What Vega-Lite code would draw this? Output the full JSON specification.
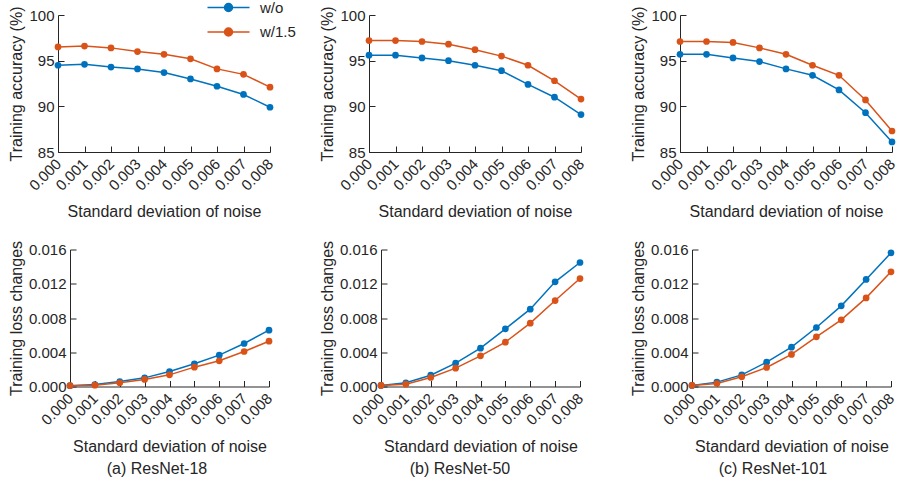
{
  "$schema": "https://vega.github.io/schema/vega-lite/v6.json",
  "padding": {"left": 8, "top": 0, "right": 0, "bottom": 0},
  "datasets": {
    "d": [
      {"model":"ResNet-18","metric":"acc","method":"w/o","noise":0.000,"value":94.5},
      {"model":"ResNet-18","metric":"acc","method":"w/o","noise":0.001,"value":94.6},
      {"model":"ResNet-18","metric":"acc","method":"w/o","noise":0.002,"value":94.3},
      {"model":"ResNet-18","metric":"acc","method":"w/o","noise":0.003,"value":94.1},
      {"model":"ResNet-18","metric":"acc","method":"w/o","noise":0.004,"value":93.7},
      {"model":"ResNet-18","metric":"acc","method":"w/o","noise":0.005,"value":93.0},
      {"model":"ResNet-18","metric":"acc","method":"w/o","noise":0.006,"value":92.2},
      {"model":"ResNet-18","metric":"acc","method":"w/o","noise":0.007,"value":91.3},
      {"model":"ResNet-18","metric":"acc","method":"w/o","noise":0.008,"value":89.9},
      {"model":"ResNet-18","metric":"acc","method":"w/1.5","noise":0.000,"value":96.5},
      {"model":"ResNet-18","metric":"acc","method":"w/1.5","noise":0.001,"value":96.6},
      {"model":"ResNet-18","metric":"acc","method":"w/1.5","noise":0.002,"value":96.4},
      {"model":"ResNet-18","metric":"acc","method":"w/1.5","noise":0.003,"value":96.0},
      {"model":"ResNet-18","metric":"acc","method":"w/1.5","noise":0.004,"value":95.7},
      {"model":"ResNet-18","metric":"acc","method":"w/1.5","noise":0.005,"value":95.2},
      {"model":"ResNet-18","metric":"acc","method":"w/1.5","noise":0.006,"value":94.1},
      {"model":"ResNet-18","metric":"acc","method":"w/1.5","noise":0.007,"value":93.5},
      {"model":"ResNet-18","metric":"acc","method":"w/1.5","noise":0.008,"value":92.1},
      {"model":"ResNet-50","metric":"acc","method":"w/o","noise":0.000,"value":95.6},
      {"model":"ResNet-50","metric":"acc","method":"w/o","noise":0.001,"value":95.6},
      {"model":"ResNet-50","metric":"acc","method":"w/o","noise":0.002,"value":95.3},
      {"model":"ResNet-50","metric":"acc","method":"w/o","noise":0.003,"value":95.0},
      {"model":"ResNet-50","metric":"acc","method":"w/o","noise":0.004,"value":94.5},
      {"model":"ResNet-50","metric":"acc","method":"w/o","noise":0.005,"value":93.9},
      {"model":"ResNet-50","metric":"acc","method":"w/o","noise":0.006,"value":92.4},
      {"model":"ResNet-50","metric":"acc","method":"w/o","noise":0.007,"value":91.0},
      {"model":"ResNet-50","metric":"acc","method":"w/o","noise":0.008,"value":89.1},
      {"model":"ResNet-50","metric":"acc","method":"w/1.5","noise":0.000,"value":97.2},
      {"model":"ResNet-50","metric":"acc","method":"w/1.5","noise":0.001,"value":97.2},
      {"model":"ResNet-50","metric":"acc","method":"w/1.5","noise":0.002,"value":97.1},
      {"model":"ResNet-50","metric":"acc","method":"w/1.5","noise":0.003,"value":96.8},
      {"model":"ResNet-50","metric":"acc","method":"w/1.5","noise":0.004,"value":96.2},
      {"model":"ResNet-50","metric":"acc","method":"w/1.5","noise":0.005,"value":95.5},
      {"model":"ResNet-50","metric":"acc","method":"w/1.5","noise":0.006,"value":94.5},
      {"model":"ResNet-50","metric":"acc","method":"w/1.5","noise":0.007,"value":92.8},
      {"model":"ResNet-50","metric":"acc","method":"w/1.5","noise":0.008,"value":90.8},
      {"model":"ResNet-101","metric":"acc","method":"w/o","noise":0.000,"value":95.7},
      {"model":"ResNet-101","metric":"acc","method":"w/o","noise":0.001,"value":95.7},
      {"model":"ResNet-101","metric":"acc","method":"w/o","noise":0.002,"value":95.3},
      {"model":"ResNet-101","metric":"acc","method":"w/o","noise":0.003,"value":94.9},
      {"model":"ResNet-101","metric":"acc","method":"w/o","noise":0.004,"value":94.1},
      {"model":"ResNet-101","metric":"acc","method":"w/o","noise":0.005,"value":93.4},
      {"model":"ResNet-101","metric":"acc","method":"w/o","noise":0.006,"value":91.8},
      {"model":"ResNet-101","metric":"acc","method":"w/o","noise":0.007,"value":89.3},
      {"model":"ResNet-101","metric":"acc","method":"w/o","noise":0.008,"value":86.1},
      {"model":"ResNet-101","metric":"acc","method":"w/1.5","noise":0.000,"value":97.1},
      {"model":"ResNet-101","metric":"acc","method":"w/1.5","noise":0.001,"value":97.1},
      {"model":"ResNet-101","metric":"acc","method":"w/1.5","noise":0.002,"value":97.0},
      {"model":"ResNet-101","metric":"acc","method":"w/1.5","noise":0.003,"value":96.4},
      {"model":"ResNet-101","metric":"acc","method":"w/1.5","noise":0.004,"value":95.7},
      {"model":"ResNet-101","metric":"acc","method":"w/1.5","noise":0.005,"value":94.5},
      {"model":"ResNet-101","metric":"acc","method":"w/1.5","noise":0.006,"value":93.4},
      {"model":"ResNet-101","metric":"acc","method":"w/1.5","noise":0.007,"value":90.7},
      {"model":"ResNet-101","metric":"acc","method":"w/1.5","noise":0.008,"value":87.3},
      {"model":"ResNet-18","metric":"loss","method":"w/o","noise":0.000,"value":0.0001},
      {"model":"ResNet-18","metric":"loss","method":"w/o","noise":0.001,"value":0.00023},
      {"model":"ResNet-18","metric":"loss","method":"w/o","noise":0.002,"value":0.00058},
      {"model":"ResNet-18","metric":"loss","method":"w/o","noise":0.003,"value":0.00101},
      {"model":"ResNet-18","metric":"loss","method":"w/o","noise":0.004,"value":0.00175},
      {"model":"ResNet-18","metric":"loss","method":"w/o","noise":0.005,"value":0.00265},
      {"model":"ResNet-18","metric":"loss","method":"w/o","noise":0.006,"value":0.00366},
      {"model":"ResNet-18","metric":"loss","method":"w/o","noise":0.007,"value":0.00502},
      {"model":"ResNet-18","metric":"loss","method":"w/o","noise":0.008,"value":0.00658},
      {"model":"ResNet-18","metric":"loss","method":"w/1.5","noise":0.000,"value":0.0001},
      {"model":"ResNet-18","metric":"loss","method":"w/1.5","noise":0.001,"value":0.00016},
      {"model":"ResNet-18","metric":"loss","method":"w/1.5","noise":0.002,"value":0.00043},
      {"model":"ResNet-18","metric":"loss","method":"w/1.5","noise":0.003,"value":0.00082},
      {"model":"ResNet-18","metric":"loss","method":"w/1.5","noise":0.004,"value":0.00136},
      {"model":"ResNet-18","metric":"loss","method":"w/1.5","noise":0.005,"value":0.00226},
      {"model":"ResNet-18","metric":"loss","method":"w/1.5","noise":0.006,"value":0.003},
      {"model":"ResNet-18","metric":"loss","method":"w/1.5","noise":0.007,"value":0.00409},
      {"model":"ResNet-18","metric":"loss","method":"w/1.5","noise":0.008,"value":0.00529},
      {"model":"ResNet-50","metric":"loss","method":"w/o","noise":0.000,"value":0.00012},
      {"model":"ResNet-50","metric":"loss","method":"w/o","noise":0.001,"value":0.00043},
      {"model":"ResNet-50","metric":"loss","method":"w/o","noise":0.002,"value":0.00132},
      {"model":"ResNet-50","metric":"loss","method":"w/o","noise":0.003,"value":0.00272},
      {"model":"ResNet-50","metric":"loss","method":"w/o","noise":0.004,"value":0.00448},
      {"model":"ResNet-50","metric":"loss","method":"w/o","noise":0.005,"value":0.00673},
      {"model":"ResNet-50","metric":"loss","method":"w/o","noise":0.006,"value":0.00903},
      {"model":"ResNet-50","metric":"loss","method":"w/o","noise":0.007,"value":0.01222},
      {"model":"ResNet-50","metric":"loss","method":"w/o","noise":0.008,"value":0.01448},
      {"model":"ResNet-50","metric":"loss","method":"w/1.5","noise":0.000,"value":0.00012},
      {"model":"ResNet-50","metric":"loss","method":"w/1.5","noise":0.001,"value":0.00027},
      {"model":"ResNet-50","metric":"loss","method":"w/1.5","noise":0.002,"value":0.00105},
      {"model":"ResNet-50","metric":"loss","method":"w/1.5","noise":0.003,"value":0.00214},
      {"model":"ResNet-50","metric":"loss","method":"w/1.5","noise":0.004,"value":0.00358},
      {"model":"ResNet-50","metric":"loss","method":"w/1.5","noise":0.005,"value":0.00518},
      {"model":"ResNet-50","metric":"loss","method":"w/1.5","noise":0.006,"value":0.0074},
      {"model":"ResNet-50","metric":"loss","method":"w/1.5","noise":0.007,"value":0.01004},
      {"model":"ResNet-50","metric":"loss","method":"w/1.5","noise":0.008,"value":0.01261},
      {"model":"ResNet-101","metric":"loss","method":"w/o","noise":0.000,"value":0.00012},
      {"model":"ResNet-101","metric":"loss","method":"w/o","noise":0.001,"value":0.00051},
      {"model":"ResNet-101","metric":"loss","method":"w/o","noise":0.002,"value":0.00136},
      {"model":"ResNet-101","metric":"loss","method":"w/o","noise":0.003,"value":0.00284},
      {"model":"ResNet-101","metric":"loss","method":"w/o","noise":0.004,"value":0.00459},
      {"model":"ResNet-101","metric":"loss","method":"w/o","noise":0.005,"value":0.00689},
      {"model":"ResNet-101","metric":"loss","method":"w/o","noise":0.006,"value":0.00942},
      {"model":"ResNet-101","metric":"loss","method":"w/o","noise":0.007,"value":0.0125},
      {"model":"ResNet-101","metric":"loss","method":"w/o","noise":0.008,"value":0.01561},
      {"model":"ResNet-101","metric":"loss","method":"w/1.5","noise":0.000,"value":0.00012},
      {"model":"ResNet-101","metric":"loss","method":"w/1.5","noise":0.001,"value":0.00035},
      {"model":"ResNet-101","metric":"loss","method":"w/1.5","noise":0.002,"value":0.00113},
      {"model":"ResNet-101","metric":"loss","method":"w/1.5","noise":0.003,"value":0.00222},
      {"model":"ResNet-101","metric":"loss","method":"w/1.5","noise":0.004,"value":0.00374},
      {"model":"ResNet-101","metric":"loss","method":"w/1.5","noise":0.005,"value":0.0058},
      {"model":"ResNet-101","metric":"loss","method":"w/1.5","noise":0.006,"value":0.00779},
      {"model":"ResNet-101","metric":"loss","method":"w/1.5","noise":0.007,"value":0.01035},
      {"model":"ResNet-101","metric":"loss","method":"w/1.5","noise":0.008,"value":0.01339}
    ]
  },
  "data": {"name": "d"},
  "config": {
    "view": {"stroke": null},
    "font": "Liberation Sans",
    "axis": {
      "labelFont": "Liberation Sans", "titleFont": "Liberation Sans",
      "labelFontSize": 15, "titleFontSize": 16, "titleFontWeight": "normal",
      "labelColor": "#262626", "titleColor": "#262626",
      "domainColor": "#262626", "tickColor": "#262626",
      "domainWidth": 1, "tickWidth": 1, "tickSize": -6, "labelPadding": 10,
      "titlePadding": 4, "grid": false, "labelFlush": false, "labelOverlap": false
    },
    "axisX": {"titlePadding": 10.5, "labelPadding": 15},
    "title": {"font": "Liberation Sans", "fontSize": 16, "fontWeight": "normal", "color": "#262626", "offset": 7},
    "legend": {
      "orient": "none", "legendX": 163, "legendY": -15,
      "labelFont": "Liberation Sans", "labelFontSize": 15, "labelColor": "#262626",
      "symbolType": "M-5.25,0H5.25M-1,0A1,1,0,1,0,1,0A1,1,0,1,0,-1,0Z",
      "symbolSize": 64, "symbolStrokeWidth": 1.5, "labelOffset": 24,
      "rowPadding": 8.5, "padding": 0
    }
  },
  "columns": 3,
  "align": "each",
  "bounds": "full",
  "spacing": {"row": 19.5, "column": 43},
  "concat": [
    {
      "width": 212, "height": 137,
      "transform": [{"filter": "datum.model == 'ResNet-18' && datum.metric == 'acc'"}],
      "encoding": {
        "x": {"field": "noise", "type": "quantitative", "scale": {"domain": [0, 0.008], "nice": false}, "axis": {"values": [0,0.001,0.002,0.003,0.004,0.005,0.006,0.007,0.008], "format": ".3f", "labelAngle": -45, "labelAlign": "right", "labelBaseline": "middle", "title": "Standard deviation of noise"}},
        "y": {"field": "value", "type": "quantitative", "scale": {"domain": [85, 100], "nice": false, "zero": false}, "axis": {"values": [85, 90, 95, 100], "title": "Training accuracy (%)"}},
        "color": {"field": "method", "type": "nominal", "scale": {"domain": ["w/o", "w/1.5"], "range": ["#0072BD", "#D95319"]}, "legend": {"title": null, "orient": "none", "legendX": 163, "legendY": -15, "labelOffset": 24}}
      },
      "layer": [
        {"mark": {"type": "line", "strokeWidth": 1.5}},
        {"mark": {"type": "point", "filled": true, "size": 45, "opacity": 1}}
      ]
    },
    {
      "width": 212, "height": 137,
      "transform": [{"filter": "datum.model == 'ResNet-50' && datum.metric == 'acc'"}],
      "encoding": {
        "x": {"field": "noise", "type": "quantitative", "scale": {"domain": [0, 0.008], "nice": false}, "axis": {"values": [0,0.001,0.002,0.003,0.004,0.005,0.006,0.007,0.008], "format": ".3f", "labelAngle": -45, "labelAlign": "right", "labelBaseline": "middle", "title": "Standard deviation of noise"}},
        "y": {"field": "value", "type": "quantitative", "scale": {"domain": [85, 100], "nice": false, "zero": false}, "axis": {"values": [85, 90, 95, 100], "title": "Training accuracy (%)"}},
        "color": {"field": "method", "type": "nominal", "scale": {"domain": ["w/o", "w/1.5"], "range": ["#0072BD", "#D95319"]}, "legend": {"title": null, "orient": "none", "legendX": 163, "legendY": -15, "labelOffset": 24}}
      },
      "layer": [
        {"mark": {"type": "line", "strokeWidth": 1.5}},
        {"mark": {"type": "point", "filled": true, "size": 45, "opacity": 1}}
      ]
    },
    {
      "width": 212, "height": 137,
      "transform": [{"filter": "datum.model == 'ResNet-101' && datum.metric == 'acc'"}],
      "encoding": {
        "x": {"field": "noise", "type": "quantitative", "scale": {"domain": [0, 0.008], "nice": false}, "axis": {"values": [0,0.001,0.002,0.003,0.004,0.005,0.006,0.007,0.008], "format": ".3f", "labelAngle": -45, "labelAlign": "right", "labelBaseline": "middle", "title": "Standard deviation of noise"}},
        "y": {"field": "value", "type": "quantitative", "scale": {"domain": [85, 100], "nice": false, "zero": false}, "axis": {"values": [85, 90, 95, 100], "title": "Training accuracy (%)"}},
        "color": {"field": "method", "type": "nominal", "scale": {"domain": ["w/o", "w/1.5"], "range": ["#0072BD", "#D95319"]}, "legend": {"title": null, "orient": "none", "legendX": 163, "legendY": -15, "labelOffset": 24}}
      },
      "layer": [
        {"mark": {"type": "line", "strokeWidth": 1.5}},
        {"mark": {"type": "point", "filled": true, "size": 45, "opacity": 1}}
      ]
    },
    {
      "width": 212, "height": 137,
      "title": {"text": "(a) ResNet-18", "orient": "bottom", "dx": -7},
      "transform": [{"filter": "datum.model == 'ResNet-18' && datum.metric == 'loss'"}],
      "encoding": {
        "x": {"field": "noise", "type": "quantitative", "scale": {"domain": [0, 0.008], "nice": false, "range": [12, 211]}, "axis": {"values": [0,0.001,0.002,0.003,0.004,0.005,0.006,0.007,0.008], "format": ".3f", "labelAngle": -45, "labelAlign": "right", "labelBaseline": "middle", "title": "Standard deviation of noise"}},
        "y": {"field": "value", "type": "quantitative", "scale": {"domain": [0, 0.016], "nice": false}, "axis": {"values": [0, 0.004, 0.008, 0.012, 0.016], "format": ".3f", "offset": -12, "title": "Training loss changes"}},
        "color": {"field": "method", "type": "nominal", "scale": {"domain": ["w/o", "w/1.5"], "range": ["#0072BD", "#D95319"]}, "legend": {"title": null, "orient": "none", "legendX": 163, "legendY": -15, "labelOffset": 24}}
      },
      "layer": [
        {"mark": {"type": "line", "strokeWidth": 1.5}},
        {"mark": {"type": "point", "filled": true, "size": 45, "opacity": 1}}
      ]
    },
    {
      "width": 212, "height": 137,
      "title": {"text": "(b) ResNet-50", "orient": "bottom", "dx": -15},
      "transform": [{"filter": "datum.model == 'ResNet-50' && datum.metric == 'loss'"}],
      "encoding": {
        "x": {"field": "noise", "type": "quantitative", "scale": {"domain": [0, 0.008], "nice": false, "range": [12, 211]}, "axis": {"values": [0,0.001,0.002,0.003,0.004,0.005,0.006,0.007,0.008], "format": ".3f", "labelAngle": -45, "labelAlign": "right", "labelBaseline": "middle", "title": "Standard deviation of noise"}},
        "y": {"field": "value", "type": "quantitative", "scale": {"domain": [0, 0.016], "nice": false}, "axis": {"values": [0, 0.004, 0.008, 0.012, 0.016], "format": ".3f", "offset": -12, "title": "Training loss changes"}},
        "color": {"field": "method", "type": "nominal", "scale": {"domain": ["w/o", "w/1.5"], "range": ["#0072BD", "#D95319"]}, "legend": {"title": null, "orient": "none", "legendX": 163, "legendY": -15, "labelOffset": 24}}
      },
      "layer": [
        {"mark": {"type": "line", "strokeWidth": 1.5}},
        {"mark": {"type": "point", "filled": true, "size": 45, "opacity": 1}}
      ]
    },
    {
      "width": 212, "height": 137,
      "title": {"text": "(c) ResNet-101", "orient": "bottom", "dx": -13},
      "transform": [{"filter": "datum.model == 'ResNet-101' && datum.metric == 'loss'"}],
      "encoding": {
        "x": {"field": "noise", "type": "quantitative", "scale": {"domain": [0, 0.008], "nice": false, "range": [12, 211]}, "axis": {"values": [0,0.001,0.002,0.003,0.004,0.005,0.006,0.007,0.008], "format": ".3f", "labelAngle": -45, "labelAlign": "right", "labelBaseline": "middle", "title": "Standard deviation of noise"}},
        "y": {"field": "value", "type": "quantitative", "scale": {"domain": [0, 0.016], "nice": false}, "axis": {"values": [0, 0.004, 0.008, 0.012, 0.016], "format": ".3f", "offset": -12, "title": "Training loss changes"}},
        "color": {"field": "method", "type": "nominal", "scale": {"domain": ["w/o", "w/1.5"], "range": ["#0072BD", "#D95319"]}, "legend": {"title": null, "orient": "none", "legendX": 163, "legendY": -15, "labelOffset": 24}}
      },
      "layer": [
        {"mark": {"type": "line", "strokeWidth": 1.5}},
        {"mark": {"type": "point", "filled": true, "size": 45, "opacity": 1}}
      ]
    }
  ]
}
